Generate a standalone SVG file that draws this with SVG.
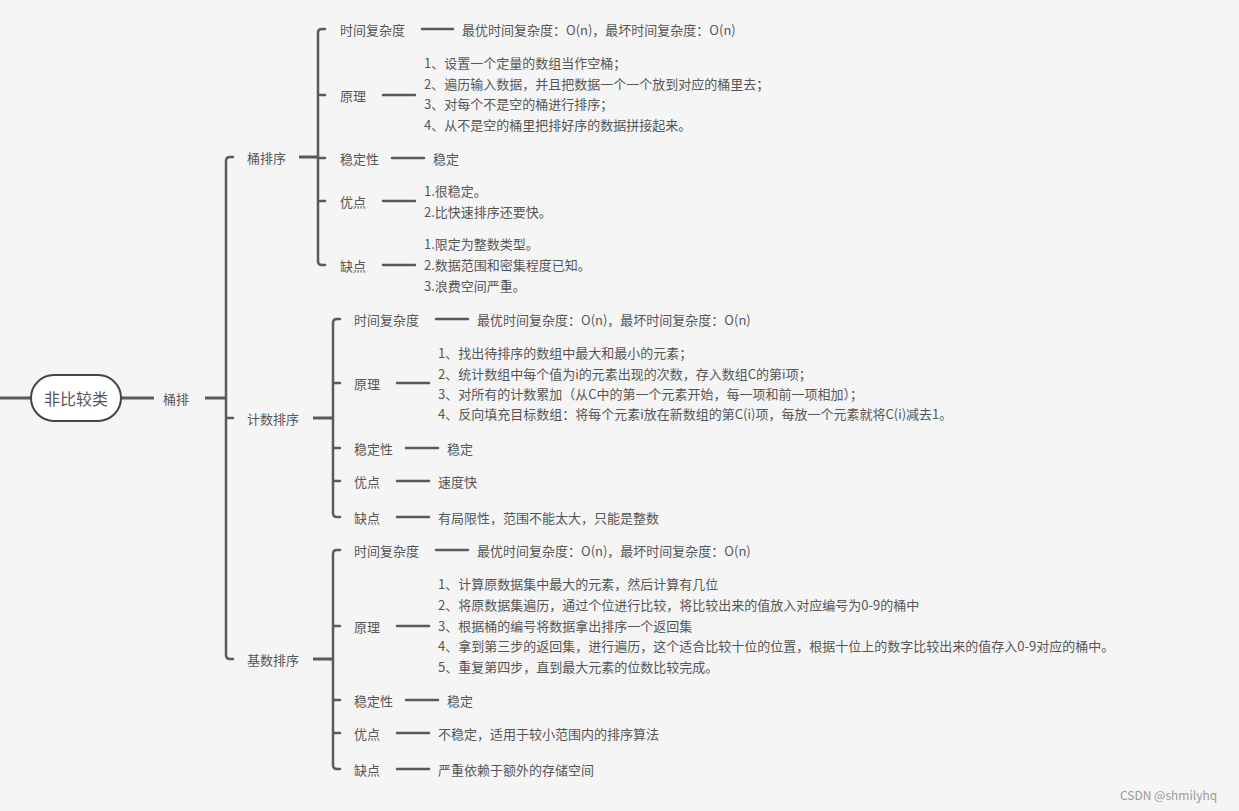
<svg xmlns="http://www.w3.org/2000/svg" width="1239" height="811" viewBox="0 0 1239 811">
<style>
text{font-family:"Noto Sans CJK SC","Liberation Sans",sans-serif;font-size:13px;fill:#555;dominant-baseline:central}
.c{fill:none;stroke:#5a5a5a;stroke-width:2.5;stroke-linecap:round}
.t{fill:none;stroke:#5a5a5a;stroke-width:3}
</style>
<rect width="1239" height="811" fill="#f5f5f5"/>
<g id="connectors">
<path class="t" d="M0 398H31M121 398H154M205 398H226"/>
<path class="c" d="M233 157H230Q226 157 226 161V655Q226 659 230 659H233M226 418H233"/>
<path class="t" d="M299 157H318M313 418H333M313 659H333"/>
<path class="c" d="M325 29H322Q318 29 318 33V261Q318 265 322 265H325M318 95H325M318 158H325M318 201H325"/>
<path class="c" d="M340 319H337Q333 319 333 323V513Q333 517 337 517H340M333 383H340M333 448H340M333 481H340"/>
<path class="c" d="M340 550H337Q333 550 333 554V765Q333 769 337 769H340M333 626H340M333 700H340M333 733H340"/>
<path class="c" d="M422 29H453M383 95H415M392 158H424M383 201H415M383 265H415"/>
<path class="c" d="M436 319H468M397 383H429M406 448H438M397 481H429M397 517H429"/>
<path class="c" d="M436 550H468M397 626H429M406 700H438M397 733H429M397 769H429"/>
</g>
<g id="root"><rect x="31" y="375" width="90" height="46" rx="23" fill="#fff" stroke="#444" stroke-width="2"/><text x="76" y="398" text-anchor="middle" style="font-size:16px">非比较类</text></g>
<g id="tongpai"><text x="163" y="398">桶排</text></g>
<g id="b"><text x="247" y="157">桶排序</text>
<text x="340" y="29">时间复杂度</text><text x="462" y="29">最优时间复杂度：O(n)，最坏时间复杂度：O(n)</text>
<text x="340" y="95">原理</text>
<text x="424" y="62">1、设置一个定量的数组当作空桶；</text>
<text x="424" y="83">2、遍历输入数据，并且把数据一个一个放到对应的桶里去；</text>
<text x="424" y="103">3、对每个不是空的桶进行排序；</text>
<text x="424" y="124">4、从不是空的桶里把排好序的数据拼接起来。</text>
<text x="340" y="158">稳定性</text><text x="433" y="158">稳定</text>
<text x="340" y="201">优点</text><text x="424" y="190">1.很稳定。</text><text x="424" y="211">2.比快速排序还要快。</text>
<text x="340" y="265">缺点</text><text x="424" y="243">1.限定为整数类型。</text><text x="424" y="264">2.数据范围和密集程度已知。</text><text x="424" y="285">3.浪费空间严重。</text>
</g>
<g id="c"><text x="247" y="418">计数排序</text>
<text x="354" y="319">时间复杂度</text><text x="477" y="319">最优时间复杂度：O(n)，最坏时间复杂度：O(n)</text>
<text x="354" y="383">原理</text>
<text x="438" y="352">1、找出待排序的数组中最大和最小的元素；</text>
<text x="438" y="373">2、统计数组中每个值为i的元素出现的次数，存入数组C的第i项；</text>
<text x="438" y="393">3、对所有的计数累加（从C中的第一个元素开始，每一项和前一项相加）；</text>
<text x="438" y="413">4、反向填充目标数组：将每个元素i放在新数组的第C(i)项，每放一个元素就将C(i)减去1。</text>
<text x="354" y="448">稳定性</text><text x="447" y="448">稳定</text>
<text x="354" y="481">优点</text><text x="438" y="481">速度快</text>
<text x="354" y="517">缺点</text><text x="438" y="517">有局限性，范围不能太大，只能是整数</text>
</g>
<g id="r"><text x="247" y="659">基数排序</text>
<text x="354" y="550">时间复杂度</text><text x="477" y="550">最优时间复杂度：O(n)，最坏时间复杂度：O(n)</text>
<text x="354" y="626">原理</text>
<text x="438" y="583">1、计算原数据集中最大的元素，然后计算有几位</text>
<text x="438" y="604">2、将原数据集遍历，通过个位进行比较，将比较出来的值放入对应编号为0-9的桶中</text>
<text x="438" y="625">3、根据桶的编号将数据拿出排序一个返回集</text>
<text x="438" y="645">4、拿到第三步的返回集，进行遍历，这个适合比较十位的位置，根据十位上的数字比较出来的值存入0-9对应的桶中。</text>
<text x="438" y="666">5、重复第四步，直到最大元素的位数比较完成。</text>
<text x="354" y="700">稳定性</text><text x="447" y="700">稳定</text>
<text x="354" y="733">优点</text><text x="438" y="733">不稳定，适用于较小范围内的排序算法</text>
<text x="354" y="769">缺点</text><text x="438" y="769">严重依赖于额外的存储空间</text>
</g>
<text x="1120" y="794" style="font-size:12px;fill:#999">CSDN @shmilyhq</text>
</svg>
